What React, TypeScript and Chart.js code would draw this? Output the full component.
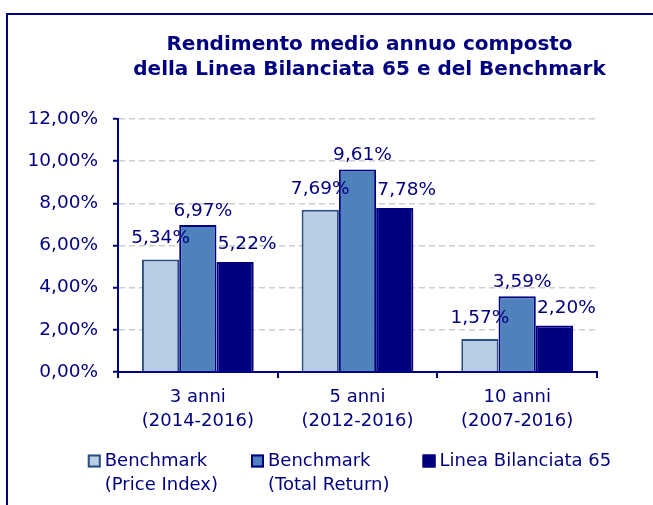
import React, { useEffect, useRef } from 'react';
import { Chart, registerables } from 'chart.js';

Chart.register(...registerables);

const titleLines = ['Rendimento medio annuo composto', 'della Linea Bilanciata 65 e del Benchmark'];
const categories = [
  ['3 anni', '(2014-2016)'],
  ['5 anni', '(2012-2016)'],
  ['10 anni', '(2007-2016)'],
];
const seriesNames = [
  ['Benchmark', '(Price Index)'],
  ['Benchmark', '(Total Return)'],
  ['Linea Bilanciata 65'],
];
const priceIndex = [5.34, 7.69, 1.57];
const totalReturn = [6.97, 9.61, 3.59];
const lineaBilanciata = [5.22, 7.78, 2.2];
const yMin = 0;
const yMax = 12;
const yStep = 2;

const NAVY = '#000080';
const fmt = (v: number) => v.toFixed(2).replace('.', ',') + '%';

const titlePlugin = {
  id: 'customTitle',
  afterDraw(chart: any) {
    const { ctx, chartArea } = chart;
    ctx.save();
    ctx.fillStyle = NAVY;
    ctx.font = 'bold 20px "DejaVu Sans"';
    ctx.textAlign = 'center';
    ctx.textBaseline = 'alphabetic';
    const cx = (chartArea.left + chartArea.right) / 2 + 12;
    titleLines.forEach((t, i) => ctx.fillText(t, cx, 50 + i * 25));
    ctx.restore();
  },
};

const dataLabelPlugin = {
  id: 'dataLabels',
  afterDatasetsDraw(chart: any) {
    const { ctx } = chart;
    ctx.save();
    ctx.fillStyle = NAVY;
    ctx.font = '18.5px "DejaVu Sans"';
    ctx.textAlign = 'center';
    ctx.textBaseline = 'alphabetic';
    chart.data.datasets.forEach((ds: any, di: number) => {
      const meta = chart.getDatasetMeta(di);
      meta.data.forEach((el: any, i: number) => {
        ctx.fillText(fmt(ds.data[i]), el.x + (ds.labelDx || 0), el.y - (ds.labelGap || 10));
      });
    });
    ctx.restore();
  },
};

const legendPlugin = {
  id: 'customLegend',
  afterDraw(chart: any) {
    const { ctx, chartArea } = chart;
    const xScale = chart.scales.x;
    ctx.save();
    ctx.font = '18px "DejaVu Sans"';
    const box = 13;
    const textGap = 4;
    const itemGap = 33;
    const widths = seriesNames.map((lines) => Math.max(...lines.map((l) => ctx.measureText(l).width)) + box + textGap);
    const total = widths.reduce((a, b) => a + b, 0) + itemGap * (widths.length - 1);
    let x = (chartArea.left + chartArea.right) / 2 - 8 - total / 2;
    const y0 = xScale.bottom + 29;
    const lh = 24;
    chart.data.datasets.forEach((ds: any, i: number) => {
      ctx.fillStyle = ds.backgroundColor;
      ctx.fillRect(x, y0 - box / 2, box, box);
      ctx.lineWidth = 2;
      ctx.strokeStyle = ds.borderColor;
      ctx.strokeRect(x + 1, y0 - box / 2 + 1, box - 2, box - 2);
      ctx.fillStyle = NAVY;
      ctx.textAlign = 'left';
      ctx.textBaseline = 'middle';
      seriesNames[i].forEach((line, li) => ctx.fillText(line, x + box + textGap, y0 + li * lh));
      x += widths[i] + itemGap;
    });
    ctx.restore();
  },
};

export default function App() {
  const ref = useRef<HTMLCanvasElement | null>(null);
  useEffect(() => {
    if (!ref.current) return;
    const chart = new Chart(ref.current, {
      type: 'bar',
      data: {
        labels: categories as any,
        datasets: [
          {
            label: seriesNames[0].join(' '),
            data: priceIndex,
            backgroundColor: '#B9CDE5',
            borderColor: '#2A4F80',
            borderWidth: 2,
            labelDx: 0,
            labelGap: 16,
          } as any,
          {
            label: seriesNames[1].join(' '),
            data: totalReturn,
            backgroundColor: '#4F81BD',
            borderColor: NAVY,
            borderWidth: 2,
            labelDx: 5,
            labelGap: 9.5,
          } as any,
          {
            label: seriesNames[2].join(' '),
            data: lineaBilanciata,
            backgroundColor: NAVY,
            borderColor: NAVY,
            borderWidth: 2,
            labelDx: 12,
            labelGap: 13,
          } as any,
        ],
      },
      options: {
        responsive: false,
        animation: false,
        devicePixelRatio: 1,
        layout: { padding: { left: 8, right: 56, top: 119, bottom: 73 } },
        datasets: { bar: { categoryPercentage: 0.7, barPercentage: 1 } },
        plugins: {
          legend: { display: false },
          title: { display: false },
          tooltip: { enabled: false },
        },
        scales: {
          x: {
            afterFit: (s: any) => { s.height = 60; },
            grid: {
              offset: true,
              drawOnChartArea: false,
              drawTicks: true,
              tickLength: 6,
              color: NAVY,
              lineWidth: 2,
            },
            border: { color: NAVY, width: 2 },
            ticks: {
              color: NAVY,
              font: { family: 'DejaVu Sans', size: 18, lineHeight: 1.3 },
              padding: 8,
              maxRotation: 0,
            },
          },
          y: {
            min: yMin,
            max: yMax,
            afterFit: (s: any) => { s.width = 110; },
            grid: {
              color: (c: any) => (c.tick && c.tick.value === 0 ? 'rgba(0,0,0,0)' : '#CDCDCD'),
              lineWidth: 1.5,
              tickColor: NAVY,
              tickLength: 5,
              tickWidth: 2,
            },
            border: { color: NAVY, width: 2, dash: [6, 4] },
            ticks: {
              stepSize: yStep,
              color: NAVY,
              font: { family: 'DejaVu Sans', size: 18.5 },
              padding: 15,
              callback: (v: any) => fmt(Number(v)),
            },
          },
        },
      },
      plugins: [titlePlugin, dataLabelPlugin, legendPlugin],
    });
    return () => chart.destroy();
  }, []);

  return (
    <div style={{ position: 'absolute', left: 0, top: 0, width: 653, height: 505, overflow: 'hidden', background: '#fff' }}>
      <div
        style={{
          position: 'absolute',
          left: 6,
          top: 13,
          width: 645,
          height: 490,
          borderLeft: '2px solid ' + NAVY,
          borderTop: '2px solid ' + NAVY,
        }}
      />
      <canvas ref={ref} width={653} height={505} style={{ position: 'absolute', left: 0, top: 0, display: 'block' }} />
    </div>
  );
}
